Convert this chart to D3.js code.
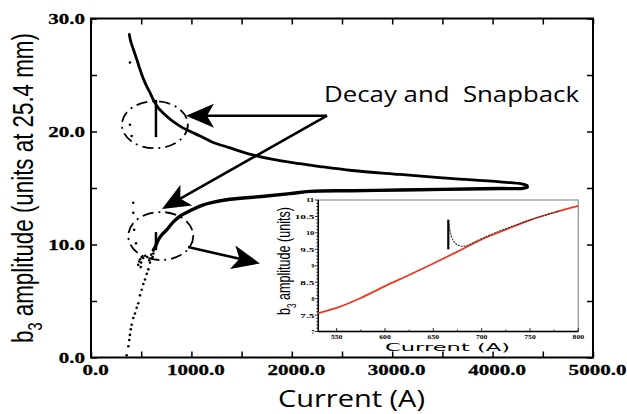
<!DOCTYPE html>
<html>
<head>
<meta charset="utf-8">
<script src="https://cdn.jsdelivr.net/npm/d3@7"></script>
<style>
  body { margin: 0; background: #fff; }
  svg { display: block; }
</style>
</head>
<body>
<script>
// main plot: b3 vs current, ramp up / ramp down branches (A, units)
const upperBranch = [[381,28.6],[395,28.0],[421,27.3],[455,26.4],[488,25.5],[520,24.7],[555,24.0],[590,23.4],[621,22.8],[670,22.1],[754,21.35],[830,20.8],[919,20.3],[1000,19.95],[1086,19.6],[1200,19.1],[1384,18.55],[1600,17.95],[1800,17.55],[2081,17.15],[2280,16.9],[2600,16.55],[3078,16.2],[3500,15.9],[4074,15.55],[4300,15.35],[4345,15.22]];
const lowerBranch = [[4345,15.08],[4300,14.97],[4074,14.95],[3500,14.88],[3078,14.82],[2600,14.76],[2181,14.7],[1982,14.5],[1700,14.25],[1384,14.0],[1200,13.7],[1086,13.4],[1000,13.05],[886,12.5],[820,12.0],[754,11.3],[700,10.8],[670,10.4],[640,9.8],[621,9.5]];
// snapback jumps: current, from, to
const snapJumps = [[647,22.8,19.5],[647,11.1,9.5]];
// isolated points
const loosePoints = [[355,0.2],[372,1.0],[381,1.55],[388,2.0],[396,2.5],[405,2.9],[421,3.5],[438,3.9],[455,4.4],[471,4.8],[488,5.5],[505,6.0],[521,6.5],[538,6.9],[555,7.4],[571,7.8],[588,8.4],[605,8.8],[621,9.2],
  [421,13.7],[421,12.8],[430,11.3],[448,10.1],[388,26.1],[388,20.6],[405,19.6],
  [470,8.2],[480,8.5],[490,8.7],[500,8.4],[520,8.8],[540,9.0],[560,8.9],[580,8.6],[600,9.1],[615,8.9],[495,8.0],[505,8.9]];
const xTickLabels = [0,1000,2000,3000,4000,5000];
const yTickLabels = [0,10,20,30];

// inset: zoom on snapback
const insetFit = [[531,7.56],[550,7.72],[575,8.02],[600,8.38],[625,8.72],[650,9.07],[675,9.43],[700,9.8],[725,10.1],[750,10.39],[775,10.62],[800,10.82]];
const insetMeasured = [[665.5,10.37],[667,10.1],[668.5,9.88],[672,9.68],[677,9.6],[684,9.58],[694,9.75],[709,9.95],[733,10.22],[757,10.47],[780,10.66]];
const insetSpike = [665.5,9.5,10.4];
const insetXTicks = [550,600,650,700,750,800];
const insetYTicks = [7,7.5,8,8.5,9,9.5,10,10.5,11];

const W = 627, H = 414;
const svg = d3.select("body").append("svg").attr("width", W).attr("height", H);

const x = d3.scaleLinear().domain([0, 5000]).range([91, 593]);
const y = d3.scaleLinear().domain([0, 30]).range([357.5, 18.5]);

// stretched bold tick labels
function stretch(sel, w) {
  sel.each(function () {
    const t = d3.select(this);
    const s = t.text();
    if (s) t.attr("textLength", s.length * w - w / 2).attr("lengthAdjust", "spacingAndGlyphs");
  });
}
function styleAxis(g) {
  g.select(".domain").remove();
  g.selectAll(".tick line").attr("stroke", "#000").attr("stroke-width", 1.5);
  g.selectAll("text").attr("font-family", "Liberation Serif, Times New Roman, serif")
    .attr("font-weight", "bold").attr("font-size", 15).attr("fill", "#000")
    .attr("stroke", "#000").attr("stroke-width", 0.3);
}

const fmt = d3.format(".1f");
const gx = svg.append("g").attr("transform", `translate(0,${y(0)})`)
  .call(d3.axisBottom(x).tickValues(d3.range(0, 5001, 500)).tickSize(-6).tickPadding(7)
    .tickFormat(d => xTickLabels.includes(d) ? fmt(d) : ""));
styleAxis(gx);
gx.selectAll("text").attr("dx", 4).call(stretch, 10.5);

const gy = svg.append("g").attr("transform", `translate(${x(0)},0)`)
  .call(d3.axisLeft(y).tickValues(d3.range(0, 31, 5)).tickSize(-6).tickPadding(6)
    .tickFormat(d => yTickLabels.includes(d) ? fmt(d) : ""));
styleAxis(gy);
gy.selectAll("text").call(stretch, 10.5);

const gt = svg.append("g").attr("transform", `translate(0,${y(30)})`)
  .call(d3.axisTop(x).tickValues(d3.range(0, 5001, 500)).tickSize(-6).tickFormat(""));
styleAxis(gt);
const gr = svg.append("g").attr("transform", `translate(${x(5000)},0)`)
  .call(d3.axisRight(y).tickValues(d3.range(0, 31, 5)).tickSize(-6).tickFormat(""));
styleAxis(gr);

svg.append("rect")
  .attr("x", x(0)).attr("y", y(30))
  .attr("width", x(5000) - x(0)).attr("height", y(0) - y(30))
  .attr("fill", "none").attr("stroke", "#000").attr("stroke-width", 2);

// axis titles
svg.append("text")
  .attr("x", 351.5).attr("y", 407)
  .attr("text-anchor", "middle")
  .attr("font-family", "Open Sans, sans-serif").attr("font-size", 24)
  .attr("textLength", 147).attr("lengthAdjust", "spacingAndGlyphs")
  .text("Current (A)");

function rotatedTitle(cx, cy, size, target, rest) {
  const t = svg.append("text")
    .attr("font-family", "Liberation Sans, Arial, sans-serif")
    .attr("font-size", size).attr("text-anchor", "middle");
  t.append("tspan").text("b");
  t.append("tspan").attr("font-size", size * 0.65).attr("dy", size * 0.3).text("3");
  t.append("tspan").attr("dy", -size * 0.3).text(rest);
  const len = t.node().getComputedTextLength();
  t.attr("transform", `translate(${cx},${cy}) rotate(-90) scale(${target / len},1)`);
}
rotatedTitle(33, 188, 30, 310, " amplitude (units at 25.4 mm)");

// data curves
const line = d3.line().x(d => x(d[0])).y(d => y(d[1])).curve(d3.curveCatmullRom);
svg.append("path").datum(upperBranch).attr("d", line)
  .attr("fill", "none").attr("stroke", "#000").attr("stroke-width", 2.8)
  .attr("stroke-linecap", "round").attr("stroke-linejoin", "round");
svg.append("path").datum(lowerBranch).attr("d", line)
  .attr("fill", "none").attr("stroke", "#000").attr("stroke-width", 3.4)
  .attr("stroke-linecap", "round").attr("stroke-linejoin", "round");
svg.selectAll(".snap").data(snapJumps).join("line").attr("class", "snap")
  .attr("x1", d => x(d[0])).attr("x2", d => x(d[0]))
  .attr("y1", d => y(d[1])).attr("y2", d => y(d[2]))
  .attr("stroke", "#000").attr("stroke-width", 2.5);
svg.selectAll(".pt").data(loosePoints).join("circle").attr("class", "pt")
  .attr("cx", d => x(d[0])).attr("cy", d => y(d[1])).attr("r", 1.3).attr("fill", "#000");

// dashed circles around the snapback
const rings = [{c: [636, 20.6], rx: 33, ry: 23.5}, {c: [695, 10.75], rx: 32.5, ry: 24}];
svg.selectAll(".ring").data(rings).join("ellipse").attr("class", "ring")
  .attr("cx", d => x(d.c[0])).attr("cy", d => y(d.c[1]))
  .attr("rx", d => d.rx).attr("ry", d => d.ry)
  .attr("fill", "none").attr("stroke", "#000").attr("stroke-width", 1.8)
  .attr("stroke-dasharray", "11,5,2,5");

// annotation
svg.append("text")
  .attr("x", x(2321)).attr("y", y(22.6))
  .attr("font-family", "Open Sans, sans-serif").attr("font-size", 21)
  .attr("textLength", 255).attr("lengthAdjust", "spacingAndGlyphs")
  .style("white-space", "pre")
  .text("Decay and  Snapback");

function arrow(from, to) {
  const p0 = [x(from[0]), y(from[1])], p1 = [x(to[0]), y(to[1])];
  const dx = p1[0] - p0[0], dy = p1[1] - p0[1], L = Math.hypot(dx, dy);
  const ux = dx / L, uy = dy / L, px = -uy, py = ux;
  const len = 28, half = 12, notch = 7;
  const bx = p1[0] - len * ux, by = p1[1] - len * uy;
  const nx = p1[0] - (len - notch) * ux, ny = p1[1] - (len - notch) * uy;
  svg.append("line").attr("x1", p0[0]).attr("y1", p0[1]).attr("x2", nx).attr("y2", ny)
    .attr("stroke", "#000").attr("stroke-width", 2.6);
  svg.append("path")
    .attr("d", `M${p1[0]},${p1[1]}L${bx + half * px},${by + half * py}L${nx},${ny}L${bx - half * px},${by - half * py}Z`)
    .attr("fill", "#000");
}
arrow([2351, 21.4], [946, 21.4]);
arrow([2351, 21.4], [707, 13.15]);
arrow([966, 9.78], [1683, 8.32]);

// inset
const ix = d3.scaleLinear().domain([531, 800]).range([318.3, 578.3]);
const iy = d3.scaleLinear().domain([7, 11]).range([331.5, 200]);
const inset = svg.append("g");
inset.append("rect").attr("x", ix(531)).attr("y", iy(11))
  .attr("width", ix(800) - ix(531)).attr("height", iy(7) - iy(11))
  .attr("fill", "#fff").attr("stroke", "#999").attr("stroke-width", 1.3);

// minor + major ticks
inset.selectAll(".iyt").data(d3.range(7, 11.001, 0.1)).join("line").attr("class", "iyt")
  .attr("x1", ix(531)).attr("x2", d => ix(531) - (Math.abs(d * 2 - Math.round(d * 2)) < 0.01 ? 3.5 : 2))
  .attr("y1", d => iy(d)).attr("y2", d => iy(d)).attr("stroke", "#000").attr("stroke-width", 0.8);
inset.selectAll(".ixt").data(d3.range(550, 801, 25)).join("line").attr("class", "ixt")
  .attr("x1", d => ix(d)).attr("x2", d => ix(d))
  .attr("y1", iy(7)).attr("y2", d => iy(7) - (d % 50 ? 2 : 3.5)).attr("stroke", "#000").attr("stroke-width", 0.8);
inset.append("line").attr("x1", ix(531)).attr("x2", ix(531)).attr("y1", iy(11)).attr("y2", iy(7))
  .attr("stroke", "#000").attr("stroke-width", 1.5);
inset.append("line").attr("x1", ix(531)).attr("x2", ix(800)).attr("y1", iy(7)).attr("y2", iy(7))
  .attr("stroke", "#000").attr("stroke-width", 1.5);

inset.selectAll(".iyl").data(insetYTicks).join("text").attr("class", "iyl")
  .attr("x", ix(531) - 4).attr("y", d => iy(d)).attr("dy", "0.35em")
  .attr("text-anchor", "end")
  .attr("font-family", "Liberation Serif, serif").attr("font-weight", "bold").attr("font-size", 7)
  .text(d => d % 1 ? d.toFixed(1) : String(d))
  .call(stretch, 5.6);
inset.selectAll(".ixl").data(insetXTicks).join("text").attr("class", "ixl")
  .attr("x", d => ix(d)).attr("y", iy(7) + 7)
  .attr("text-anchor", "middle")
  .attr("font-family", "Liberation Serif, serif").attr("font-weight", "bold").attr("font-size", 6.5)
  .text(d => d)
  .call(stretch, 4.6);

const iline = d3.line().x(d => ix(d[0])).y(d => iy(d[1])).curve(d3.curveMonotoneX);
inset.append("path").datum(insetFit).attr("d", iline)
  .attr("fill", "none").attr("stroke", "#f2371f").attr("stroke-width", 1.8);
inset.append("path").datum(insetMeasured).attr("d", d3.line().x(d => ix(d[0])).y(d => iy(d[1])).curve(d3.curveBasis))
  .attr("fill", "none").attr("stroke", "#333").attr("stroke-width", 1.1).attr("stroke-dasharray", "2,1");
inset.append("line").attr("x1", ix(insetSpike[0])).attr("x2", ix(insetSpike[0]))
  .attr("y1", iy(insetSpike[1])).attr("y2", iy(insetSpike[2]))
  .attr("stroke", "#000").attr("stroke-width", 2.2);

inset.append("text")
  .attr("x", 447.5).attr("y", 351).attr("text-anchor", "middle")
  .attr("font-family", "DejaVu Sans, sans-serif").attr("font-size", 10)
  .attr("textLength", 125).attr("lengthAdjust", "spacingAndGlyphs")
  .text("Current (A)");
rotatedTitle(290, 261, 19, 108, " amplitude (units)");
</script>
</body>
</html>
